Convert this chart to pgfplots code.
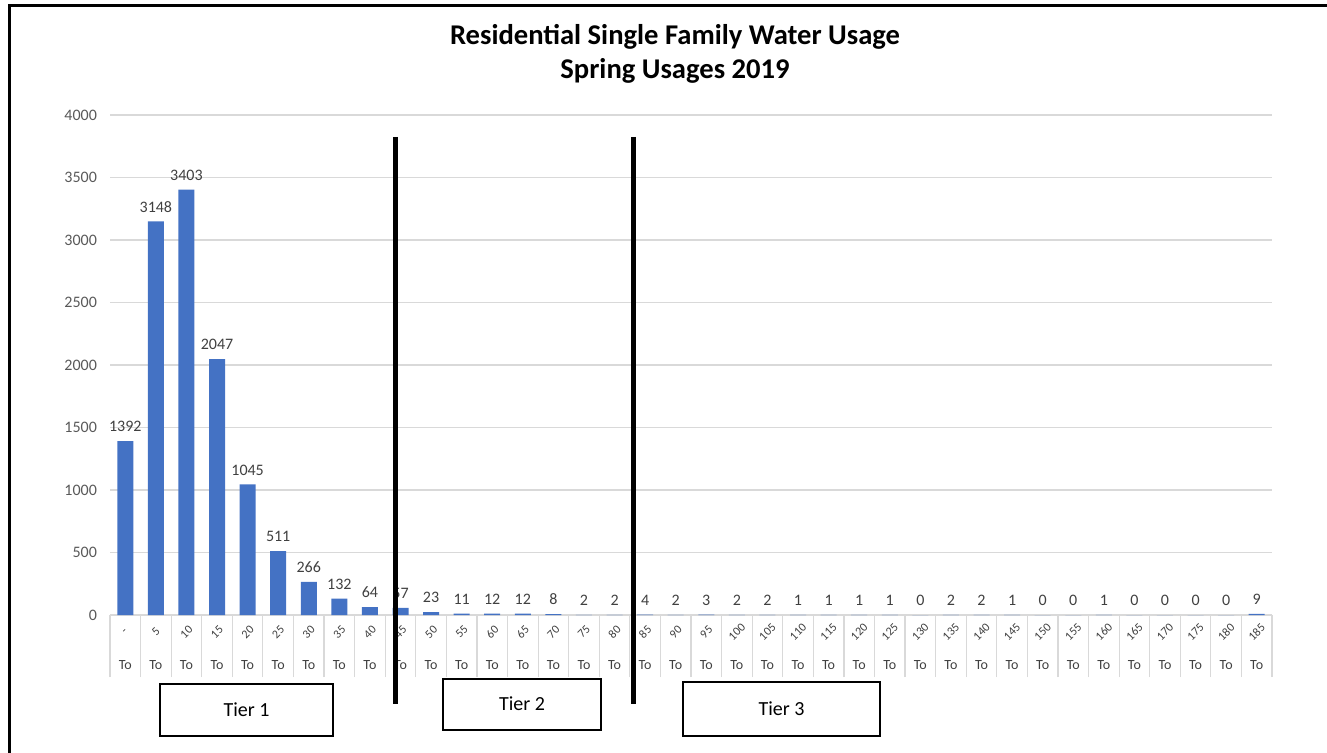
\documentclass[border=0pt]{standalone}
\usepackage{pgfplots}
\pgfplotsset{compat=1.18}
\usepackage{fontspec}
\setmainfont{Carlito}
\definecolor{barblue}{HTML}{4472C4}
\definecolor{gridgray}{HTML}{D9D9D9}
\definecolor{labgray}{HTML}{595959}
\definecolor{txtgray}{HTML}{404040}

\begin{document}
\begin{tikzpicture}[x=0.5pt,y=-0.5pt]
\useasboundingbox (0,0) rectangle (1327,753);
\draw[line width=1.5pt] (9,770) -- (9,6) -- (1340,6);
\node[font=\fontsize{14.3}{16}\selectfont\bfseries] at (675,37) {Residential Single Family Water Usage};
\node[font=\fontsize{14.3}{16}\selectfont\bfseries] at (675,71) {Spring Usages 2019};
\coordinate (A) at (110,615);
\begin{axis}[
  at={(A)}, anchor=south west,
  scale only axis, width=581pt, height=250pt,
  ybar, bar width=8pt,
  xmin=-0.5, xmax=37.5, ymin=0, ymax=4000,
  ytick={0,500,...,4000},
  ymajorgrids, grid style={gridgray, line width=0.6pt},
  axis line style={draw=none},
  ytick style={draw=none},
  tick pos=left,
  major tick length=0pt,
  every tick/.style={gridgray, line width=0.6pt},
  xtick={0,...,37},
  xticklabels={-,5,10,15,20,25,30,35,40,45,50,55,60,65,70,75,80,85,90,95,100,105,110,115,120,125,130,135,140,145,150,155,160,165,170,175,180,185},
  xticklabel style={yshift=-8.5pt, rotate=45, anchor=center, font=\fontsize{6}{7}\selectfont, text=txtgray},
  extra x ticks={-0.5,0.5,...,37.5},
  extra x tick labels={},
  extra x tick style={major tick length=31pt, tick align=outside},
  yticklabel style={xshift=-3pt, font=\fontsize{8}{9}\selectfont, text=labgray},
  /pgf/number format/1000 sep={},
  /pgf/number format/assume math mode=true,
  clip=false,
  nodes near coords,
  every node near coord/.append style={font=\fontsize{8}{9}\selectfont, text=txtgray, yshift=1pt},
]
\addplot[fill=barblue, draw=none] coordinates {
  (0,1392) (1,3148) (2,3403) (3,2047) (4,1045) (5,511) (6,266) (7,132)
  (8,64) (9,57) (10,23) (11,11) (12,12) (13,12) (14,8) (15,2) (16,2)
  (17,4) (18,2) (19,3) (20,2) (21,2) (22,1) (23,1) (24,1) (25,1) (26,0)
  (27,2) (28,2) (29,1) (30,0) (31,0) (32,1) (33,0) (34,0) (35,0) (36,0) (37,9)
};
\pgfplotsinvokeforeach{0,...,37}{
  \node[font=\fontsize{7}{8}\selectfont, text=txtgray] at (axis cs:#1,0) [yshift=-25pt] {To};
}
\end{axis}
\draw[line width=2.5pt] (395,137) -- (395,704);
\draw[line width=2.5pt] (633,137) -- (633,704);
\draw[line width=1pt] (160,684) rectangle (333,736);
\node[font=\fontsize{10}{12}\selectfont] at (246.5,710) {Tier 1};
\draw[line width=1pt] (443,679) rectangle (601,730);
\node[font=\fontsize{10}{12}\selectfont] at (522,704) {Tier 2};
\draw[line width=1pt] (683,682) rectangle (880,736);
\node[font=\fontsize{10}{12}\selectfont] at (781.5,709) {Tier 3};
\end{tikzpicture}
\end{document}
